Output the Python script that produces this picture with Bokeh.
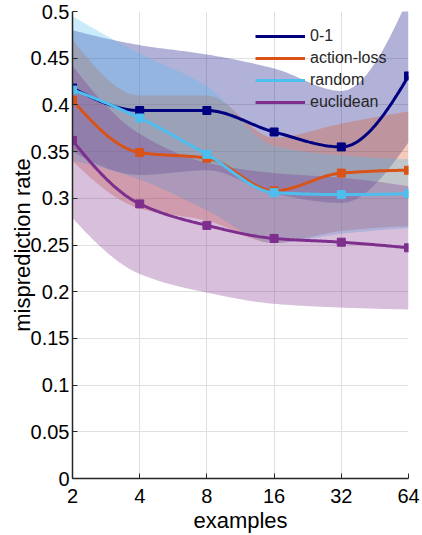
import numpy as np
from bokeh.plotting import figure
from bokeh.models import Range1d, FixedTicker, Legend, LegendItem
from bokeh.embed import file_html
from bokeh.resources import INLINE

# ---- data ----
examples = [2, 4, 8, 16, 32, 64]
x_tick_labels = ["2", "4", "8", "16", "32", "64"]
y_ticks = [0, 0.05, 0.1, 0.15, 0.2, 0.25, 0.3, 0.35, 0.4, 0.45, 0.5]
y_tick_labels = ["0", "0.05", "0.1", "0.15", "0.2", "0.25", "0.3", "0.35", "0.4", "0.45", "0.5"]

names = ["0-1", "action-loss", "random", "euclidean"]
colors = ["#000080", "#D95319", "#4DBEEE", "#7E2F8E"]

mean_01 = [0.418, 0.394, 0.394, 0.371, 0.355, 0.431]
upper_01 = [0.480, 0.464, 0.454, 0.439, 0.415, 0.515]
lower_01 = [0.350, 0.325, 0.330, 0.305, 0.295, 0.360]

mean_action = [0.405, 0.349, 0.343, 0.308, 0.327, 0.330]
upper_action = [0.470, 0.410, 0.410, 0.365, 0.380, 0.393]
lower_action = [0.340, 0.289, 0.276, 0.252, 0.265, 0.270]

mean_random = [0.416, 0.386, 0.347, 0.306, 0.304, 0.305]
upper_random = [0.495, 0.455, 0.420, 0.356, 0.346, 0.342]
lower_random = [0.340, 0.320, 0.287, 0.252, 0.262, 0.268]

mean_eucl = [0.362, 0.294, 0.271, 0.257, 0.253, 0.247]
upper_eucl = [0.442, 0.369, 0.338, 0.327, 0.322, 0.313]
lower_eucl = [0.279, 0.219, 0.199, 0.187, 0.183, 0.181]

means = [mean_01, mean_action, mean_random, mean_eucl]
uppers = [upper_01, upper_action, upper_random, upper_eucl]
lowers = [lower_01, lower_action, lower_random, lower_eucl]


def pchip_curve(xs, ys, n=40):
    """Shape-preserving smooth rendering curve through the points (log2 x)."""
    t = np.log2(np.asarray(xs, float))
    y = np.asarray(ys, float)
    k = len(t)
    h = np.diff(t)
    d = np.diff(y) / h
    s = np.zeros(k)
    for i in range(1, k - 1):
        if d[i - 1] * d[i] > 0:
            w1 = 2 * h[i] + h[i - 1]
            w2 = h[i] + 2 * h[i - 1]
            s[i] = (w1 + w2) / (w1 / d[i - 1] + w2 / d[i])

    def end(h0, h1, d0, d1):
        v = ((2 * h0 + h1) * d0 - h0 * d1) / (h0 + h1)
        if np.sign(v) != np.sign(d0):
            v = 0.0
        elif np.sign(d0) != np.sign(d1) and abs(v) > abs(3 * d0):
            v = 3 * d0
        return v

    s[0] = end(h[0], h[1], d[0], d[1])
    s[-1] = end(h[-1], h[-2], d[-1], d[-2])
    tt = np.linspace(t[0], t[-1], n * (k - 1) + 1)
    out = np.empty_like(tt)
    for j, v in enumerate(tt):
        i = min(np.searchsorted(t, v, side="right") - 1, k - 2)
        u = (v - t[i]) / h[i]
        h00 = 2 * u ** 3 - 3 * u ** 2 + 1
        h10 = u ** 3 - 2 * u ** 2 + u
        h01 = -2 * u ** 3 + 3 * u ** 2
        h11 = u ** 3 - u ** 2
        out[j] = h00 * y[i] + h10 * h[i] * s[i] + h01 * y[i + 1] + h11 * h[i] * s[i + 1]
    return 2 ** tt, out


FONT = "Liberation Sans"

p = figure(width=420, height=535, x_axis_type="log",
           x_range=Range1d(2, 64), y_range=Range1d(0, 0.5),
           output_backend="svg", toolbar_location=None,
           min_border_left=72, min_border_right=12, min_border_top=11, min_border_bottom=40)
p.outline_line_color = None
p.background_fill_color = "white"
p.border_fill_color = "white"

# bands
for up, lo, col in zip(uppers, lowers, colors):
    xs, yu = pchip_curve(examples, up)
    _, yl = pchip_curve(examples, lo)
    p.varea(x=xs, y1=yl, y2=yu, fill_color=col, fill_alpha=0.3)

# lines
items = []
for m, col, name in zip(means, colors, names):
    xs, ym = pchip_curve(examples, m)
    r = p.line(xs, ym, line_color=col, line_width=3)
    p.scatter(examples, m, marker="square", size=8, fill_color=col, line_color=col)
    items.append(LegendItem(label=name, renderers=[r]))

legend = Legend(items=items, location="top_right", margin=14, padding=5,
                glyph_width=50, glyph_height=22, label_height=22, label_width=84,
                label_standoff=5, spacing=0,
                label_text_font=FONT, label_text_font_size="16px",
                label_text_color="#262626",
                background_fill_alpha=0, border_line_color=None)
p.add_layout(legend)

# axes
p.xaxis.ticker = FixedTicker(ticks=examples)
p.xaxis.major_label_overrides = {v: s for v, s in zip(examples, x_tick_labels)}
p.yaxis.ticker = FixedTicker(ticks=y_ticks)
p.yaxis.major_label_overrides = {v: s for v, s in zip(y_ticks, y_tick_labels)}
p.xaxis.axis_label = "examples"
p.yaxis.axis_label = "misprediction rate"

for ax in (p.xaxis, p.yaxis):
    ax.axis_line_color = "#262626"
    ax.axis_line_width = 1.5
    ax.major_tick_line_color = "#262626"
    ax.major_tick_in = 5
    ax.major_tick_out = 0
    ax.minor_tick_line_color = None
    ax.major_label_text_font = FONT
    ax.major_label_text_font_size = "20px"
    ax.major_label_text_color = "#000000"
    ax.axis_label_text_font = FONT
    ax.axis_label_text_font_size = "22px"
    ax.axis_label_text_font_style = "normal"
    ax.axis_label_text_color = "#000000"

p.yaxis.major_label_standoff = 3
p.yaxis.axis_label_standoff = -7
p.xaxis.major_label_standoff = 10
p.xaxis.axis_label_standoff = 2

p.xgrid.grid_line_color = "#e0e0e0"
p.ygrid.grid_line_color = "#e0e0e0"
p.xgrid.ticker = FixedTicker(ticks=examples)
p.ygrid.ticker = FixedTicker(ticks=y_ticks)

open("out.html", "w").write(file_html(p, INLINE))
